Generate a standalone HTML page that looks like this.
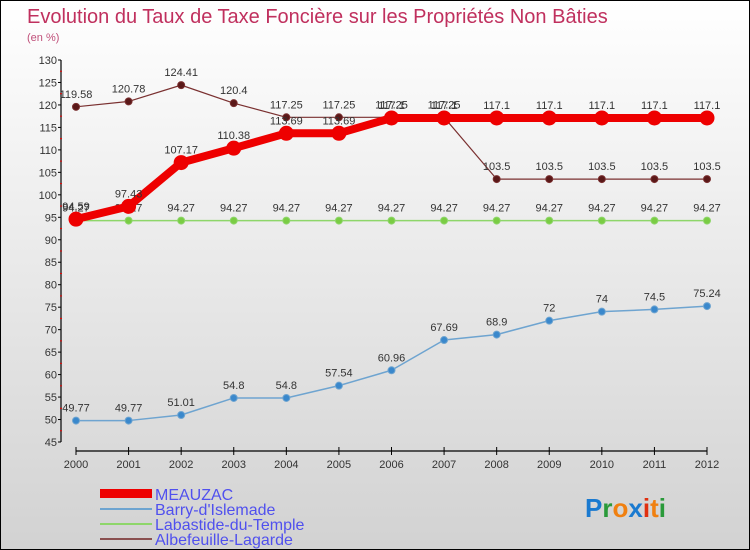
<!DOCTYPE html>
<html><head><meta charset="utf-8"><style>
body{margin:0}
#c{position:relative;width:748px;height:548px;border:1px solid #000;background:linear-gradient(#ffffff,#d2d2d2);font-family:"Liberation Sans",sans-serif;overflow:hidden}
</style></head><body>
<div id="c">
<svg id="s" width="748" height="548" xmlns="http://www.w3.org/2000/svg">
<text x="26" y="22" font-size="20" fill="#c0305e">Evolution du Taux de Taxe Foncière sur les Propriétés Non Bâties</text>
<text x="26" y="40" font-size="11" fill="#c0507a">(en %)</text>
<g id="axes"></g><g id="series"></g>
<g font-size="16" fill="#5050ee">
<rect x="99" y="488" width="52" height="9" fill="#e00"/>
<text x="154" y="499">MEAUZAC</text>
<rect x="99" y="507" width="52" height="2" fill="#6ea4d0"/>
<text x="154" y="514">Barry-d'Islemade</text>
<rect x="99" y="522" width="52" height="2" fill="#8ed66a"/>
<text x="154" y="529">Labastide-du-Temple</text>
<rect x="99" y="537" width="52" height="2" fill="#8a5050"/>
<text x="154" y="544">Albefeuille-Lagarde</text>
</g>
<g font-size="26" font-weight="bold">
<text x="584" y="516"><tspan fill="#1a7ad0">P</tspan><tspan fill="#2a9a3a">r</tspan><tspan fill="#f08010">o</tspan><tspan fill="#1a7ad0">x</tspan><tspan fill="#e03010">i</tspan><tspan fill="#f08010">t</tspan><tspan fill="#2a9a3a">i</tspan></text>
</g>
</svg>
</div>
<script>
const years=[2000,2001,2002,2003,2004,2005,2006,2007,2008,2009,2010,2011,2012];
const yTicks=[45,50,55,60,65,70,75,80,85,90,95,100,105,110,115,120,125,130];
const meauzac=[94.59,97.43,107.17,110.38,113.69,113.69,117.1,117.1,117.1,117.1,117.1,117.1,117.1];
const barry=[49.77,49.77,51.01,54.8,54.8,57.54,60.96,67.69,68.9,72,74,74.5,75.24];
const labastide=[94.27,94.27,94.27,94.27,94.27,94.27,94.27,94.27,94.27,94.27,94.27,94.27,94.27];
const albefeuille=[119.58,120.78,124.41,120.4,117.25,117.25,117.25,117.25,103.5,103.5,103.5,103.5,103.5];
const NS="http://www.w3.org/2000/svg";
const x=i=>75+i*(706-75)/(years.length-1);
const y=v=>441-(v-45)*(441-59)/85;
function mk(t,a,p){const e=document.createElementNS(NS,t);for(const k in a)e.setAttribute(k,a[k]);p.appendChild(e);return e;}
const ax=document.getElementById('axes');
let e=mk('line',{x1:60,y1:y(130),x2:60,y2:y(45),stroke:'#000','stroke-width':1.2},ax);


e=mk('line',{x1:75,y1:450,x2:706,y2:450,stroke:'#000','stroke-width':1.2},ax);


yTicks.forEach(v=>{mk('line',{x1:57,x2:60,y1:y(v),y2:y(v),stroke:'#000'},ax);
if(v<130)mk('line',{x1:59,x2:61,y1:y(v+2.5),y2:y(v+2.5),stroke:'#e00'},ax);
const t=mk('text',{x:56,y:y(v)+4,'text-anchor':'end','font-size':11,fill:'#333'},ax);t.textContent=v;

});
years.forEach((yr,i)=>{mk('line',{x1:x(i),x2:x(i),y1:446,y2:454,stroke:'#000'},ax);
const t=mk('text',{x:x(i),y:467,'text-anchor':'middle','font-size':11,fill:'#333'},ax);t.textContent=yr;

});
const sg=document.getElementById('series');
function series(name,data,color,w,r,dot){const g=mk('g',{},sg);


mk('polyline',{points:data.map((v,i)=>x(i)+','+y(v)).join(' '),fill:'none',stroke:color,'stroke-width':w,'stroke-linejoin':'round'},g);
data.forEach((v,i)=>{const c=mk('circle',{cx:x(i),cy:y(v),r:r,fill:dot,stroke:color,'stroke-width':1},g);


const t=mk('text',{x:x(i),y:y(v)-9,'text-anchor':'middle','font-size':11,fill:'#333'},g);t.textContent=v;

});}
series('albefeuille',albefeuille,'#7a3030',1.2,3.5,'#5a1818');
series('labastide',labastide,'#8ed66a',1.5,3.5,'#7acc44');
series('barry',barry,'#6ea4d0',1.5,3.5,'#3a88cc');
series('meauzac',meauzac,'#ee0000',8,7,'#ee0000');
</script>
</body></html>
